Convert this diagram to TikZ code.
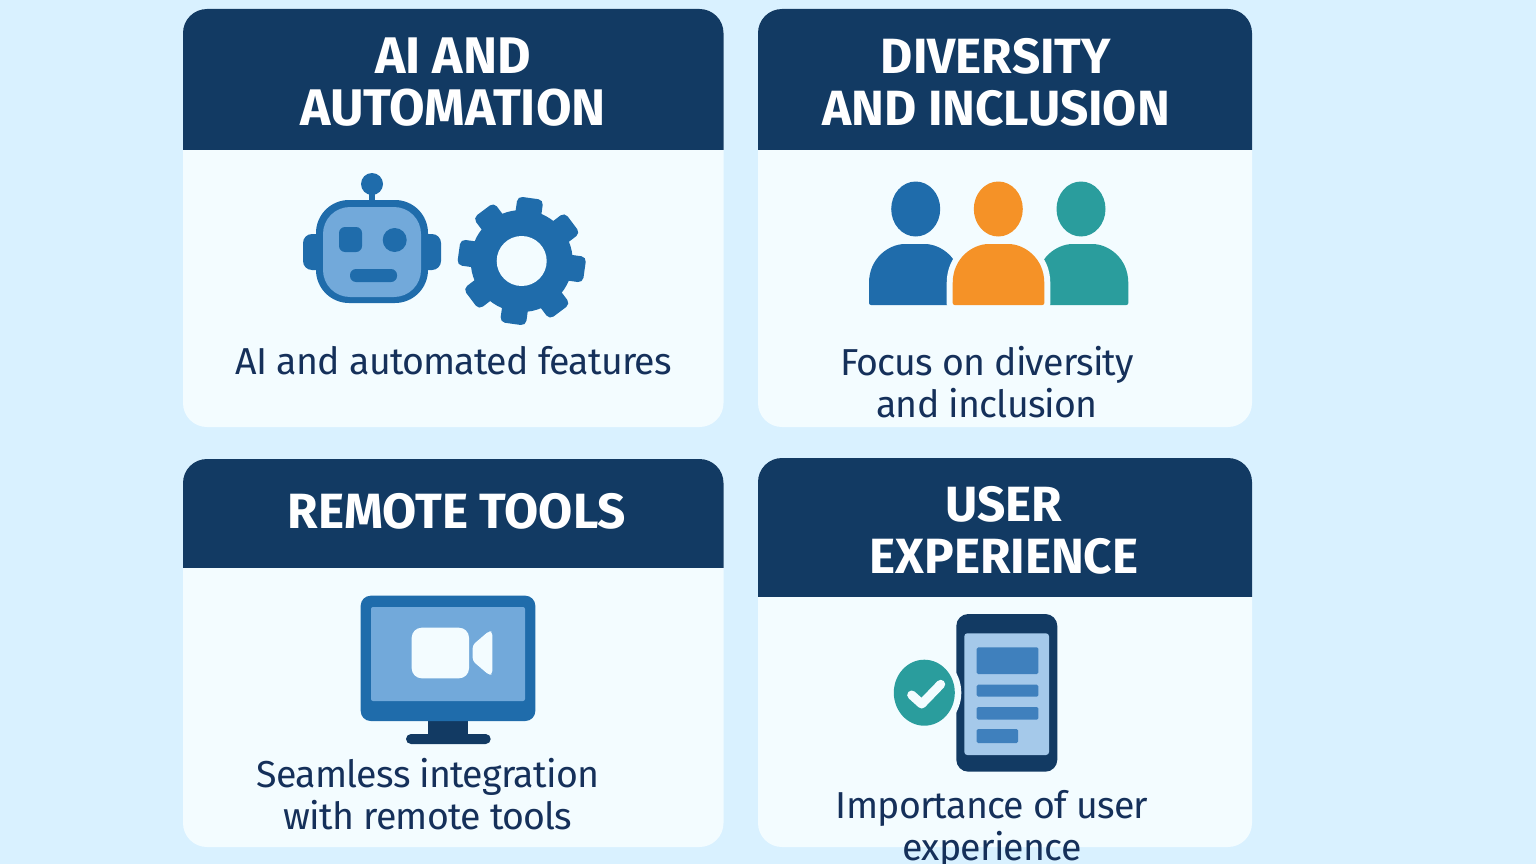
\documentclass[tikz,border=0pt]{standalone}
\usepackage{fontspec}
\setmainfont{Fira Sans}
\definecolor{bgc}{HTML}{D9F1FF}
\definecolor{cardc}{HTML}{F3FCFF}
\definecolor{navy}{HTML}{123A63}
\definecolor{bodytx}{HTML}{15305A}
\definecolor{midblue}{HTML}{1F6CAB}
\definecolor{lightblue}{HTML}{72A9DA}
\definecolor{paleblue}{HTML}{A5C9EA}
\definecolor{blockblue}{HTML}{3F80BD}
\definecolor{orangec}{HTML}{F59227}
\definecolor{tealc}{HTML}{2A9D9D}
\tikzset{
  headtx/.style={text=white,font=\fontsize{49.5}{52}\selectfont\bfseries,align=center,inner sep=0pt},
  bodytext/.style={text=bodytx,font=\fontsize{37.5}{42}\selectfont\addfontfeature{LetterSpace=-2},align=center,inner sep=0pt},
  cardbox/.style={fill=cardc,rounded corners=24pt},
  headbox/.style={fill=navy},
}
\newcommand{\personbody}[3]{% x0, x1, style
  \path[#3,rounded corners=2pt] (#1,305) -- (#1,285) .. controls (#1,258) and ({#1+20},244) .. ({#1+38},244)
    -- ({#2-38},244) .. controls ({#2-20},244) and (#2,258) .. (#2,285) -- (#2,305) -- cycle;}
\begin{document}
\begin{tikzpicture}[x=1pt,y=-1pt]
\useasboundingbox (0,0) rectangle (1536,864);
\fill[bgc] (0,0) rectangle (1536,864);
\begin{scope}
\clip (0,0) rectangle (1536,864);
% cards
\foreach \xa/\xb/\ya/\yb/\yh in {183/723.5/9/427/149.5,758/1252/9/427/149.5,183/723.5/459/847/567.5,758/1252/458/847/596.5}{
  \fill[cardbox] (\xa,\ya) rectangle (\xb,\yb);
  \begin{scope}
    \clip (\xa,\ya) rectangle (\xb,\yh);
    \fill[headbox,rounded corners=24pt] (\xa,\ya) rectangle (\xb,\yh+40);
  \end{scope}
}
% titles
\node[headtx,font=\fontsize{51.5}{52}\selectfont\bfseries] (t1) at (453,82) {AI AND\\AUTOMATION};
\node[headtx] (t2) at (996,82) {DIVERSITY\\AND INCLUSION};
\node[headtx] (t3) at (457,511) {REMOTE TOOLS};
\node[headtx] (t4) at (1004,530) {USER\\EXPERIENCE};
% body texts
\node[bodytext] (b1) at (454,361) {AI and automated features};
\node[bodytext] (b2) at (987,382) {Focus on diversity\\and inclusion};
\node[bodytext] (b3) at (428,794) {Seamless integration\\with remote tools};
\node[bodytext] (b4) at (992,829) {Importance of user\\experience};
% robot
\fill[midblue] (372,184) circle (11);
\fill[midblue] (369,190) rectangle (375,202);
\fill[midblue,rounded corners=9pt] (303,234) rectangle (330,270);
\fill[midblue,rounded corners=9pt] (414,234) rectangle (441,270);
\fill[midblue,rounded corners=33pt] (316,200) rectangle (428,303);
\fill[lightblue,rounded corners=27pt] (323,207) rectangle (421,297);
\fill[midblue,rounded corners=6pt] (339,227) rectangle (362,252);
\fill[midblue] (394.7,240) circle (12);
\fill[midblue,rounded corners=6pt] (350,269) rectangle (397,282);
% gear
\begin{scope}[shift={(521.7,261)}]
  \fill[midblue] (0,0) circle (51);
  \foreach \a in {0,45,...,315}{
    \fill[midblue,rounded corners=5pt,rotate=-8+\a] (-13,-63.5) rectangle (13,-40);
  }
  \fill[cardc] (0,0) circle (25);
\end{scope}
% people
\fill[midblue] (915.7,209) ellipse (24.5 and 27.5);
\fill[orangec] (998.3,209) ellipse (24.5 and 27.5);
\fill[tealc] (1081,209) ellipse (24.5 and 27.5);
\personbody{869}{960.7}{fill=midblue}
\personbody{1036.7}{1128.3}{fill=tealc}
\personbody{952.7}{1044.3}{fill=orangec,draw=cardc,line width=12pt}
\personbody{952.7}{1044.3}{fill=orangec}
% monitor
\fill[navy] (428.3,718) rectangle (467.7,738);
\fill[navy,rounded corners=5pt] (406,734) rectangle (490.7,744);
\fill[midblue,rounded corners=10pt] (360.7,595.7) rectangle (535.3,721);
\fill[lightblue,rounded corners=2pt] (371,607) rectangle (525,701);
\fill[cardc,rounded corners=10pt] (411.7,627.7) rectangle (469,678.3);
\fill[cardc,rounded corners=3pt] (472.7,645) -- (489,631) -- (492.3,632) -- (492.3,674) -- (489,675) -- (472.7,661) -- cycle;
% phone
\fill[navy,rounded corners=12pt] (956.3,614) rectangle (1057.3,771.7);
\fill[paleblue,rounded corners=3pt] (964.3,633.3) rectangle (1049,755);
\fill[blockblue,rounded corners=1.5pt] (976.7,647.3) rectangle (1038.3,674);
\fill[blockblue,rounded corners=1.5pt] (976.7,684.7) rectangle (1038.3,696.7);
\fill[blockblue,rounded corners=1.5pt] (976.7,707) rectangle (1038.3,719.7);
\fill[blockblue,rounded corners=1.5pt] (976.7,729) rectangle (1018,743);
\fill[cardc] (924.3,692.7) ellipse (37 and 39);
\fill[tealc] (924.3,692.7) ellipse (30.5 and 33);
\draw[cardc,line width=9pt,line cap=round,line join=round] (911.7,695) -- (921.7,704) -- (940.7,684.3);
\end{scope}
\end{tikzpicture}
\end{document}
